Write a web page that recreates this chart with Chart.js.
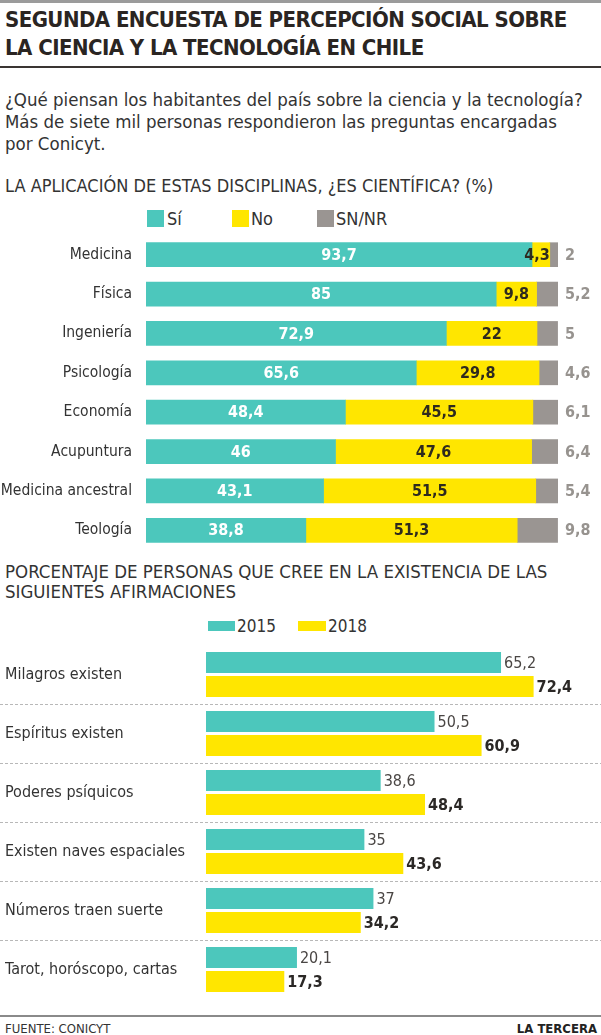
<!DOCTYPE html>
<html>
<head>
<meta charset="utf-8">
<script src="https://cdn.jsdelivr.net/npm/chart.js@4"></script>
<style>
  body { margin: 0; background: #fff; }
  #page { position: relative; width: 601px; height: 1035px; overflow: hidden; font-family: "DejaVu Sans Condensed", "DejaVu Sans", sans-serif; color: #2b2826; }
  .abs { position: absolute; white-space: nowrap; }
  .title { left: 5px; font-weight: bold; font-size: 22px; line-height: 28px; color: #2a2522; letter-spacing: -0.55px; }
  .sub { left: 5px; font-size: 18.5px; line-height: 22px; color: #333; }
  .head { left: 5px; font-size: 18px; line-height: 20px; color: #333; }
  .sw { position: absolute; }
  .lg { font-size: 18px; line-height: 20px; color: #333; }
  canvas { position: absolute; left: 0; }
</style>
</head>
<body>
<div id="page">
  <div class="abs" style="left:0;top:0;width:601px;height:3px;background:#9b9b9b"></div>
  <div class="abs title" style="top:6px">SEGUNDA ENCUESTA DE PERCEPCIÓN SOCIAL SOBRE</div>
  <div class="abs title" style="top:34px">LA CIENCIA Y LA TECNOLOGÍA EN CHILE</div>
  <div class="abs" style="left:0;top:66px;width:601px;height:2px;background:#3a3532"></div>
  <div class="abs sub" style="top:89px">¿Qué piensan los habitantes del país sobre la ciencia y la tecnología?<br>Más de siete mil personas respondieron las preguntas encargadas<br>por Conicyt.</div>

  <div class="abs head" style="top:176px">LA APLICACIÓN DE ESTAS DISCIPLINAS, ¿ES CIENTÍFICA? (%)</div>
  <div class="sw" style="left:147px;top:210px;width:17px;height:17px;background:#4cc7bc"></div>
  <div class="abs lg" style="left:167px;top:209px">Sí</div>
  <div class="sw" style="left:232px;top:210px;width:17px;height:17px;background:#ffe600"></div>
  <div class="abs lg" style="left:251px;top:209px">No</div>
  <div class="sw" style="left:317px;top:210px;width:17px;height:17px;background:#9a9592"></div>
  <div class="abs lg" style="left:336px;top:209px">SN/NR</div>
  <canvas id="chart1" width="601" height="330" style="top:230px"></canvas>

  <div class="abs head" style="top:562px;font-size:18.5px">PORCENTAJE DE PERSONAS QUE CREE EN LA EXISTENCIA DE LAS<br>SIGUIENTES AFIRMACIONES</div>
  <div class="sw" style="left:208px;top:621px;width:27px;height:10px;background:#4cc7bc"></div>
  <div class="abs lg" style="left:237px;top:616px;font-size:17px">2015</div>
  <div class="sw" style="left:298px;top:621px;width:28px;height:10px;background:#ffe600"></div>
  <div class="abs lg" style="left:328px;top:616px;font-size:17px">2018</div>
  <canvas id="chart2" width="601" height="365" style="top:640px"></canvas>

  <div class="abs" style="left:0;top:1015px;width:601px;height:2px;background:#8a8a8a"></div>
  <div class="abs" style="left:5px;top:1020px;font-size:13px;line-height:18px;color:#333">FUENTE: CONICYT</div>
  <div class="abs" style="right:4px;top:1020px;font-size:13px;line-height:18px;font-weight:bold;color:#222">LA TERCERA</div>
</div>

<script>
// Datos - disciplinas
const disciplinas = ["Medicina", "Física", "Ingeniería", "Psicología", "Economía", "Acupuntura", "Medicina ancestral", "Teología"];
const si = [93.7, 85, 72.9, 65.6, 48.4, 46, 43.1, 38.8];
const no = [4.3, 9.8, 22, 29.8, 45.5, 47.6, 51.5, 51.3];
const snnr = [2, 5.2, 5, 4.6, 6.1, 6.4, 5.4, 9.8];

// Datos - afirmaciones
const afirmaciones = ["Milagros existen", "Espíritus existen", "Poderes psíquicos", "Existen naves espaciales", "Números traen suerte", "Tarot, horóscopo, cartas"];
const anio2015 = [65.2, 50.5, 38.6, 35, 37, 20.1];
const anio2018 = [72.4, 60.9, 48.4, 43.6, 34.2, 17.3];

const TEAL = '#4cc7bc';
const YELLOW = '#ffe600';
const GRAY = '#9a9592';
const FONT = '"DejaVu Sans Condensed", "DejaVu Sans", sans-serif';

const fmt = v => String(v).replace('.', ',');

// etiquetas de valores del gráfico apilado
const stackLabels = {
    id: 'stackLabels',
    afterDatasetsDraw(chart) {
        const ctx = chart.ctx;
        ctx.save();
        ctx.font = 'bold 16px ' + FONT;
        ctx.textBaseline = 'middle';
        chart.data.datasets.forEach((ds, i) => {
            const meta = chart.getDatasetMeta(i);
            meta.data.forEach((bar, j) => {
                const txt = fmt(ds.data[j]);
                const left = bar.base, right = bar.x;
                if (i === 0) {
                    ctx.fillStyle = '#fff';
                    ctx.textAlign = 'center';
                    ctx.fillText(txt, (left + right) / 2, bar.y + 1);
                } else if (i === 1) {
                    ctx.fillStyle = '#2e2a1e';
                    const w = ctx.measureText(txt).width;
                    if (w + 4 > right - left) {
                        ctx.textAlign = 'right';
                        ctx.fillText(txt, right, bar.y + 1);
                    } else {
                        ctx.textAlign = 'center';
                        ctx.fillText(txt, (left + right) / 2, bar.y + 1);
                    }
                } else {
                    ctx.fillStyle = '#97938f';
                    ctx.textAlign = 'left';
                    ctx.fillText(txt, chart.chartArea.right + 7, bar.y + 1);
                }
            });
        });
        ctx.restore();
    }
};

new Chart(document.getElementById('chart1'), {
    type: 'bar',
    data: {
        labels: disciplinas,
        datasets: [
            { label: 'Sí', data: si, backgroundColor: TEAL },
            { label: 'No', data: no, backgroundColor: YELLOW },
            { label: 'SN/NR', data: snnr, backgroundColor: GRAY }
        ]
    },
    options: {
        indexAxis: 'y',
        responsive: false,
        animation: false,
        barThickness: 24,
        layout: { padding: { top: 5, bottom: 10, right: 43, left: 0 } },
        plugins: { legend: { display: false }, tooltip: { enabled: false } },
        scales: {
            x: { stacked: true, min: 0, max: 100, display: false },
            y: {
                stacked: true,
                grid: { display: false },
                border: { display: false },
                ticks: { color: '#333', font: { family: FONT, size: 15.5 }, padding: 6 },
                afterFit(scale) {
                    scale.width = 146;
                    scale.paddingTop = 0;
                    scale.paddingBottom = 0;
                }
            }
        }
    },
    plugins: [stackLabels]
});

// separadores punteados y valores del gráfico agrupado
const groupLabels = {
    id: 'groupLabels',
    beforeDatasetsDraw(chart) {
        const ctx = chart.ctx;
        const y = chart.scales.y;
        ctx.save();
        ctx.strokeStyle = '#b8b8b8';
        ctx.lineWidth = 1;
        ctx.setLineDash([3, 2]);
        for (let i = 1; i < afirmaciones.length; i++) {
            const py = Math.round((y.getPixelForValue(i - 1) + y.getPixelForValue(i)) / 2) + 0.5;
            ctx.beginPath();
            ctx.moveTo(0, py);
            ctx.lineTo(chart.width, py);
            ctx.stroke();
        }
        ctx.restore();
    },
    afterDatasetsDraw(chart) {
        const ctx = chart.ctx;
        ctx.save();
        ctx.textBaseline = 'middle';
        ctx.textAlign = 'left';
        chart.data.datasets.forEach((ds, i) => {
            const meta = chart.getDatasetMeta(i);
            meta.data.forEach((bar, j) => {
                if (i === 0) {
                    ctx.font = '16px ' + FONT;
                    ctx.fillStyle = '#4a4644';
                } else {
                    ctx.font = 'bold 16px ' + FONT;
                    ctx.fillStyle = '#2b2826';
                }
                ctx.fillText(fmt(ds.data[j]), bar.x + 3, bar.y + 1);
            });
        });
        ctx.restore();
    }
};

new Chart(document.getElementById('chart2'), {
    type: 'bar',
    data: {
        labels: afirmaciones,
        datasets: [
            { label: '2015', data: anio2015, backgroundColor: TEAL },
            { label: '2018', data: anio2018, backgroundColor: YELLOW }
        ]
    },
    options: {
        indexAxis: 'y',
        responsive: false,
        animation: false,
        categoryPercentage: 0.814,
        barPercentage: 0.875,
        layout: { padding: { top: 5, bottom: 6, right: 33, left: 5 } },
        plugins: { legend: { display: false }, tooltip: { enabled: false } },
        scales: {
            x: { min: 0, max: 80, display: false },
            y: {
                grid: { display: false },
                border: { display: false },
                ticks: { color: '#333', font: { family: FONT, size: 16 }, crossAlign: 'far' },
                afterFit(scale) {
                    scale.width = 201;
                    scale.paddingTop = 0;
                    scale.paddingBottom = 0;
                }
            }
        }
    },
    plugins: [groupLabels]
});
</script>
</body>
</html>
